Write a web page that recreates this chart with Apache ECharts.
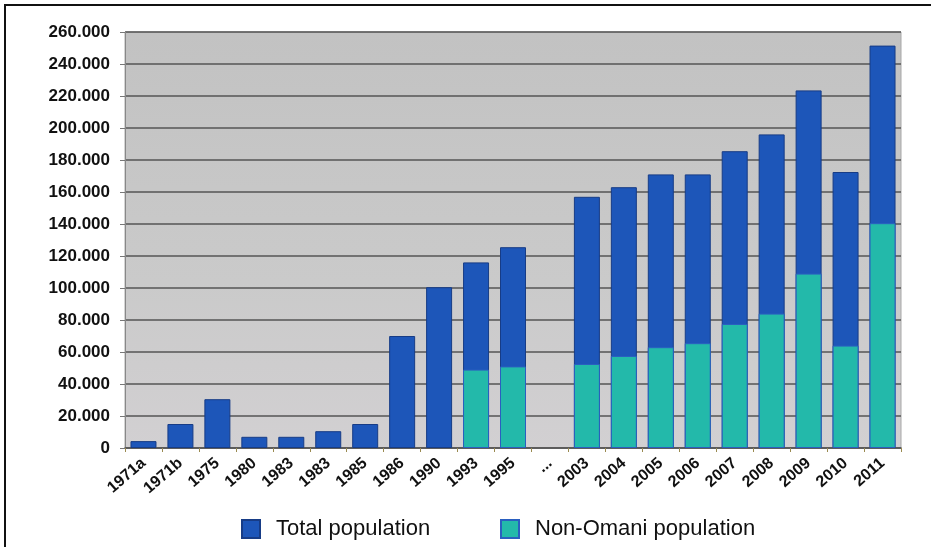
<!DOCTYPE html>
<html>
<head>
<meta charset="utf-8">
<script src="https://cdn.jsdelivr.net/npm/echarts@6/dist/echarts.min.js"></script>
<style>
html,body{margin:0;padding:0;background:#fff;}
#c{width:931px;height:547px;}
</style>
</head>
<body>
<div id="c"></div>
<script>
var categories = ['1971a','1971b','1975','1980','1983','1983','1985','1986','1990','1993','1995','...','2003','2004','2005','2006','2007','2008','2009','2010','2011'];
var totalPopulation = [4300, 15000, 30500, 7000, 7000, 10500, 15000, 70000, 100500, 116000, 125500, null, 157000, 163000, 171000, 171000, 185500, 196000, 223500, 172500, 251500];
var nonOmaniPopulation = [null, null, null, null, null, null, null, null, null, 49000, 51000, null, 52500, 57500, 63000, 65500, 77500, 84000, 109000, 64000, 140500];
var yTicks = [0, 20000, 40000, 60000, 80000, 100000, 120000, 140000, 160000, 180000, 200000, 220000, 240000, 260000];

function fmt(v){ return Math.round(v).toString().replace(/\B(?=(\d{3})+(?!\d))/g, '.'); }

var FONT = 'Liberation Sans, Arial, sans-serif';
var chart = echarts.init(document.getElementById('c'));
chart.setOption({
  animation: false,
  backgroundColor: '#ffffff',
  textStyle: { fontFamily: FONT },
  graphic: [{
    type: 'rect',
    shape: { x: 5, y: 5, width: 960, height: 600 },
    style: { fill: 'none', stroke: '#111', lineWidth: 2 },
    z: 100
  }],
  grid: {
    left: 125, right: 30, top: 32, bottom: 99,
    show: true,
    backgroundColor: new echarts.graphic.LinearGradient(0, 0, 0, 1, [
      { offset: 0, color: '#c2c2c2' },
      { offset: 0.6, color: '#cacaca' },
      { offset: 1, color: '#d2d0d2' }
    ]),
    borderColor: '#a8a8a8', borderWidth: 1
  },
  legend: [{
    data: ['Total population'],
    left: 241, top: 518, padding: 0,
    itemWidth: 18, itemHeight: 18,
    textStyle: { fontSize: 22, color: '#111', fontFamily: FONT, padding: [0,0,0,11] },
    icon: 'rect'
  }, {
    data: ['Non-Omani population'],
    left: 500, top: 518, padding: 0,
    itemWidth: 18, itemHeight: 18,
    textStyle: { fontSize: 22, color: '#111', fontFamily: FONT, padding: [0,0,0,11] },
    icon: 'rect'
  }],
  xAxis: {
    type: 'category',
    data: categories,
    axisLine: { show: true, lineStyle: { color: '#555', width: 1.5 } },
    axisTick: { show: true, alignWithLabel: false, length: 4, lineStyle: { color: '#9a8a50' } },
    axisLabel: {
      rotate: 41, interval: 0, margin: 13,
      fontSize: 16, fontWeight: 'bold', color: '#111',
      fontFamily: FONT
    }
  },
  yAxis: {
    type: 'value',
    min: 0, max: 260000, interval: 20000,
    axisLine: { show: true, lineStyle: { color: '#888', width: 1 } },
    axisTick: { show: true, length: 5, lineStyle: { color: '#777' } },
    splitLine: { show: true, lineStyle: { color: '#545454', width: 1.6 } },
    axisLabel: {
      margin: 15,
      fontSize: 17, fontWeight: 'bold', color: '#111',
      fontFamily: FONT,
      formatter: function(v){ return yTicks.indexOf(v) >= 0 ? fmt(v) : ''; }
    }
  },
  series: [{
    name: 'Total population',
    type: 'bar',
    data: totalPopulation,
    barWidth: 26,
    barGap: '-100%',
    itemStyle: { color: '#1d56b9', borderColor: '#173c86', borderWidth: 1 }
  }, {
    name: 'Non-Omani population',
    type: 'bar',
    data: nonOmaniPopulation,
    barWidth: 26,
    barGap: '-100%',
    itemStyle: { color: '#23b9aa', borderColor: '#2a5fc0', borderWidth: 1 }
  }]
});
</script>
</body>
</html>
